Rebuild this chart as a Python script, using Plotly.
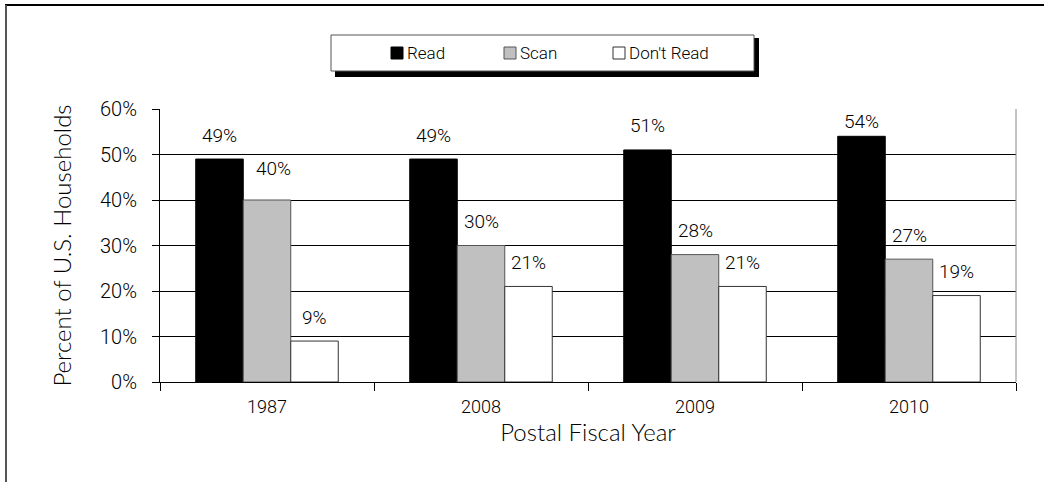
import plotly.graph_objects as go

# Share of U.S. households by how they treat advertising mail
years = ["1987", "2008", "2009", "2010"]
read = [49, 49, 51, 54]
scan = [40, 30, 28, 27]
dont_read = [9, 21, 21, 19]
series_names = ["Read", "Scan", "Don't Read"]
y_ticks = [0, 10, 20, 30, 40, 50, 60]

W, H = 1044, 482
L, R, T, B = 160, 28, 109, 100
PW, PH = W - L - R, H - T - B


def px_x(px):
    """Pixel column -> paper x."""
    return (px - L) / PW


def px_y(py):
    """Pixel row -> paper y."""
    return (H - B - py) / PH


NUM = "Roboto, Liberation Sans, sans-serif"
TITLE = "Lato, Noto Sans, sans-serif"
LIGHT = 300
BARGAP = 0.334
fills = ["#000000", "#c0c0c0", "#ffffff"]
edges = ["#000000", "#555555", "#333333"]
series_values = [read, scan, dont_read]

fig = go.Figure()
for name, vals, fill, edge in zip(series_names, series_values, fills, edges):
    fig.add_trace(go.Bar(
        x=years, y=vals, name=name, showlegend=False,
        marker=dict(color=fill, line=dict(color=edge, width=1)),
        hoverinfo="skip",
    ))

# value labels above each bar
bar_w = (1 - BARGAP) / len(series_names)
nudges = {("1987", "Scan"): (6, 8), ("2010", "Read"): (0, -9)}
annotations = []
for j, (name, vals) in enumerate(zip(series_names, series_values)):
    off = (j - (len(series_names) - 1) / 2) * bar_w
    for i, (yr, v) in enumerate(zip(years, vals)):
        dx, dy = nudges.get((yr, name), (0, 0))
        annotations.append(dict(
            x=i + off, y=v, xref="x", yref="y", text=f"{v}%",
            showarrow=False, yanchor="middle", xanchor="center",
            yshift=24 + dy, xshift=dx,
            font=dict(family=NUM, size=19, color="#000", weight=LIGHT),
        ))

shapes = [
    # outer frame (top and left edges)
    dict(type="line", xref="paper", yref="paper",
         x0=px_x(5), x1=px_x(1044), y0=px_y(5), y1=px_y(5),
         line=dict(color="#000", width=2)),
    dict(type="line", xref="paper", yref="paper",
         x0=px_x(6), x1=px_x(6), y0=px_y(5), y1=px_y(482),
         line=dict(color="#555", width=2)),
    # legend shadow and box
    dict(type="rect", xref="paper", yref="paper",
         x0=px_x(335), x1=px_x(759), y0=px_y(77), y1=px_y(38),
         fillcolor="#000", line=dict(width=0)),
    dict(type="rect", xref="paper", yref="paper",
         x0=px_x(331), x1=px_x(754), y0=px_y(71), y1=px_y(35),
         fillcolor="#fff", line=dict(color="#555", width=1)),
    # right edge of plot area
    dict(type="line", xref="paper", yref="paper",
         x0=1, x1=1, y0=0, y1=1, line=dict(color="#888", width=1)),
]

# legend entries: swatch + label in a single row
legend_swatch_left = [391, 504, 613]
for left, name, fill, edge in zip(legend_swatch_left, series_names, fills, edges):
    shapes.append(dict(
        type="rect", xref="paper", yref="paper",
        x0=px_x(left), x1=px_x(left + 12), y0=px_y(59), y1=px_y(47),
        fillcolor=fill, line=dict(color=edge, width=1),
    ))
    annotations.append(dict(
        x=px_x(left + 14), y=px_y(53), xref="paper", yref="paper",
        text=name, showarrow=False, xanchor="left", yanchor="middle",
        font=dict(family=NUM, size=17, color="#000", weight=LIGHT),
    ))

fig.update_layout(
    width=W, height=H,
    margin=dict(l=L, r=R, t=T, b=B, pad=0),
    paper_bgcolor="#fff", plot_bgcolor="#fff",
    barmode="group", bargap=BARGAP, bargroupgap=0,
    font=dict(family=NUM, size=20, color="#000"),
    showlegend=False,
    annotations=annotations,
    shapes=shapes,
    xaxis=dict(
        type="category", tickson="boundaries",
        ticks="outside", ticklen=8, tickcolor="#000",
        showline=True, linecolor="#000", linewidth=1,
        showgrid=False,
        tickfont=dict(family=NUM, size=18, weight=LIGHT),
        ticklabelstandoff=8,
        title=dict(text="Postal Fiscal Year",
                   font=dict(family=TITLE, size=24, weight=LIGHT), standoff=6),
    ),
    yaxis=dict(
        range=[0, 60], tickvals=y_ticks,
        ticktext=[f"{v}%" for v in y_ticks],
        ticks="outside", ticklen=7, tickcolor="#000",
        showline=True, linecolor="#000", linewidth=1,
        showgrid=True, gridcolor="#000", gridwidth=1,
        zeroline=False,
        tickfont=dict(family=NUM, size=20, weight=LIGHT),
        ticklabelstandoff=11,
        title=dict(text="Percent of U.S. Households",
                   font=dict(family=TITLE, size=24, weight=LIGHT), standoff=21),
    ),
)

fig.write_html("out.html")
